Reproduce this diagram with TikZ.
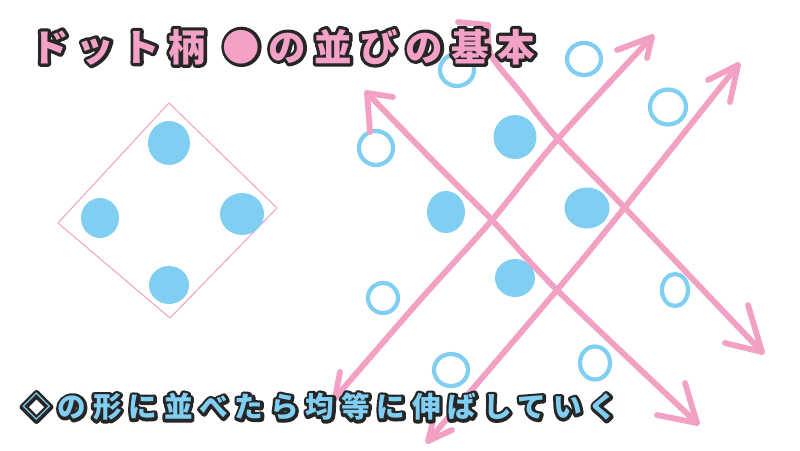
\documentclass[tikz,border=0pt]{standalone}
\usepackage{fontspec}
\newfontfamily\titlefont{Noto Sans CJK JP}[LetterSpace=22]
\newfontfamily\capfont{Noto Sans CJK JP}[LetterSpace=24]
\definecolor{arrowpink}{HTML}{F2A0C3}
\definecolor{titlepink}{HTML}{F3A1C7}
\definecolor{dotblue}{HTML}{80CFF3}
\definecolor{outlinedark}{HTML}{262626}
\tikzset{
  arrowline/.style={draw=arrowpink, line width=5.8pt, line cap=round, line join=round},
  opendot/.style={draw=dotblue, line width=4.2pt},
  filldot/.style={fill=dotblue},
  frameline/.style={draw=arrowpink, line width=1pt, line join=round},
  txt/.style={anchor=west, inner sep=0pt},
}
\newcommand\strokedtext[2]{\special{pdf:literal direct 0.149 0.149 0.149 RG 1 Tr #1 w 1 j 1 J}#2\special{pdf:literal direct 0 Tr}}
\begin{document}
\begin{tikzpicture}[x=1pt,y=-1pt]
\fill[white] (0,0) rectangle (800,450);
\useasboundingbox (0,0) rectangle (800,450);

% ---- left diamond with four dots
\coordinate (dT) at (169,103);
\coordinate (dR) at (277,208);
\coordinate (dB) at (170,318);
\coordinate (dL) at (58,223);
\draw[frameline] (dT) -- (dR) -- (dB) -- (dL) -- cycle;
\fill[filldot] (169,143) ellipse [x radius=21pt, y radius=22pt];
\fill[filldot] (100,218) ellipse [x radius=19pt, y radius=20pt];
\fill[filldot] (242,214) ellipse [x radius=22pt, y radius=21pt];
\fill[filldot] (169,285) ellipse [x radius=20pt, y radius=19pt];

% ---- right: filled dots
\fill[filldot] (515,137) ellipse [x radius=21.5pt, y radius=22pt];
\fill[filldot] (446,212) ellipse [x radius=19pt, y radius=21pt];
\fill[filldot] (587,208) ellipse [x radius=22.5pt, y radius=20.5pt];
\fill[filldot] (515,278) ellipse [x radius=20pt, y radius=19pt];

% ---- right: open dots
\draw[opendot] (457,70) ellipse [x radius=17pt, y radius=16pt];
\draw[opendot] (584,59) ellipse [x radius=17pt, y radius=16pt];
\draw[opendot] (668,107) ellipse [x radius=18pt, y radius=17.5pt];
\draw[opendot] (376,148) ellipse [x radius=17pt, y radius=17pt];
\draw[opendot] (383,298) ellipse [x radius=15pt, y radius=15pt];
\draw[opendot] (675,290) ellipse [x radius=13pt, y radius=16pt];
\draw[opendot] (451,370) ellipse [x radius=17pt, y radius=16pt];
\draw[opendot] (595,363) ellipse [x radius=15pt, y radius=16.5pt];

% ---- arrows
\coordinate (a1s) at (335,398);
\coordinate (a1n) at (652,37);
\coordinate (a2s) at (428,441);
\coordinate (a2n) at (738,65);
\coordinate (a3n) at (367,93);
\coordinate (a3s) at (697,423);
\coordinate (a4n) at (488,25);
\coordinate (a4s) at (762,352);

\draw[arrowline] plot[smooth] coordinates {(a1s) (420,300) (492,220) (557,140) (652,37)};
\draw[arrowline] plot[smooth] coordinates {(a2s) (557,290) (625,207) (738,65)};
\draw[arrowline] plot[smooth] coordinates {(a3n) (440,168) (492,220) (557,290) (697,423)};
\draw[arrowline] plot[smooth] coordinates {(a4n) (491,55) (520,92) (557,138) (625,208) (762,352)};

% barbs
\draw[arrowline] (617,50) -- (a1n) -- (647,58);
\draw[arrowline] (708,80) -- (a2n) -- (730,102);
\draw[arrowline] (393,97) -- (a3n) -- (370,132);
\draw[arrowline] (685,383) -- (a3s) -- (657,415);
\draw[arrowline] (748,305) -- (a4s) -- (725,343);
\draw[arrowline] (458,22) -- (a4n);
\draw[arrowline] (340,372) -- (a1s);
\draw[arrowline] (433,421) -- (a2s) -- (452,430);

% ---- texts (dark outline drawn as stroked glyphs, then the fill on top)
\coordinate (titlepos) at (31,47);
\coordinate (cappos) at (22,407);
\node[txt, text=outlinedark, font=\titlefont\bfseries\fontsize{37.5}{42}\selectfont] (titleoutline) at (titlepos) {\strokedtext{6.5}{ドット柄 ●の並びの基本}};
\node[txt, text=titlepink, font=\titlefont\bfseries\fontsize{37.5}{42}\selectfont] (title) at (titlepos) {ドット柄 ●の並びの基本};
\node[txt, text=outlinedark, font=\capfont\bfseries\fontsize{28.6}{32}\selectfont] (captionoutline) at (cappos) {\strokedtext{6}{◇の形に並べたら均等に伸ばしていく}};
\node[txt, text=dotblue, font=\capfont\bfseries\fontsize{28.6}{32}\selectfont] (caption) at (cappos) {◇の形に並べたら均等に伸ばしていく};
\end{tikzpicture}
\end{document}
